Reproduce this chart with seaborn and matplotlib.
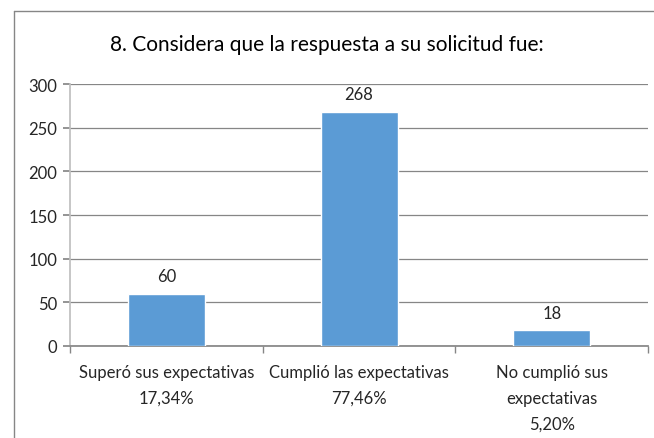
import matplotlib
matplotlib.use("Agg")
import matplotlib.pyplot as plt
import seaborn as sns
import pandas as pd

categories = ["Superó sus expectativas\n17,34%", "Cumplió las expectativas\n77,46%", "No cumplió sus\nexpectativas\n5,20%"]
values = [60, 268, 18]
title = "8. Considera que la respuesta a su solicitud fue:"
yticks = [0, 50, 100, 150, 200, 250, 300]

sns.set_theme(style="white")
plt.rcParams['font.family'] = ['Lato', 'DejaVu Sans']

df = pd.DataFrame({"cat": categories, "val": values})

fig = plt.figure(figsize=(6.54, 4.39), dpi=100)
ax = fig.add_axes([0.107, 0.2096, 0.884, 0.5965])
sns.barplot(data=df, x="cat", y="val", color="#5B9BD5", width=0.4, saturation=1, ax=ax, zorder=3)

ax.set_ylim(0, 300)
ax.set_xlim(-0.5, 2.5)
ax.set_yticks(yticks)
ax.set_yticklabels([str(t) for t in yticks], fontsize=12, color="#262626")
ax.yaxis.grid(True, color="#868686", linewidth=0.9, zorder=0)
ax.set_xlabel("")
ax.set_ylabel("")
for s in ["top", "right"]:
    ax.spines[s].set_visible(False)
ax.spines["left"].set_color("#BFBFBF")
ax.spines["bottom"].set_color("#868686")
ax.tick_params(axis="y", length=5, color="#868686", left=True, pad=4)
ax.tick_params(axis="x", length=0, pad=13)
ax.set_xticks([0, 1, 2])
ax.set_xticklabels(categories, fontsize=12, color="#262626", linespacing=1.75)
ax.set_xticks([-0.5, 0.5, 1.5, 2.5], minor=True)
ax.tick_params(axis="x", which="minor", length=5, color="#868686", bottom=True)

for i, v in enumerate(values):
    ax.text(i, v + 11, str(v), ha="center", va="bottom", fontsize=12, color="#262626")

fig.text(0.5, 0.897, title, ha="center", va="center", fontsize=15, color="#000000")

# outer border (top and left visible)
fig.add_artist(plt.Line2D([0.0215, 0.0215], [0, 0.973], transform=fig.transFigure, color="#868686", linewidth=1))
fig.add_artist(plt.Line2D([0.0215, 1.0], [0.973, 0.973], transform=fig.transFigure, color="#868686", linewidth=1))

fig.savefig("out.png", dpi=100)
